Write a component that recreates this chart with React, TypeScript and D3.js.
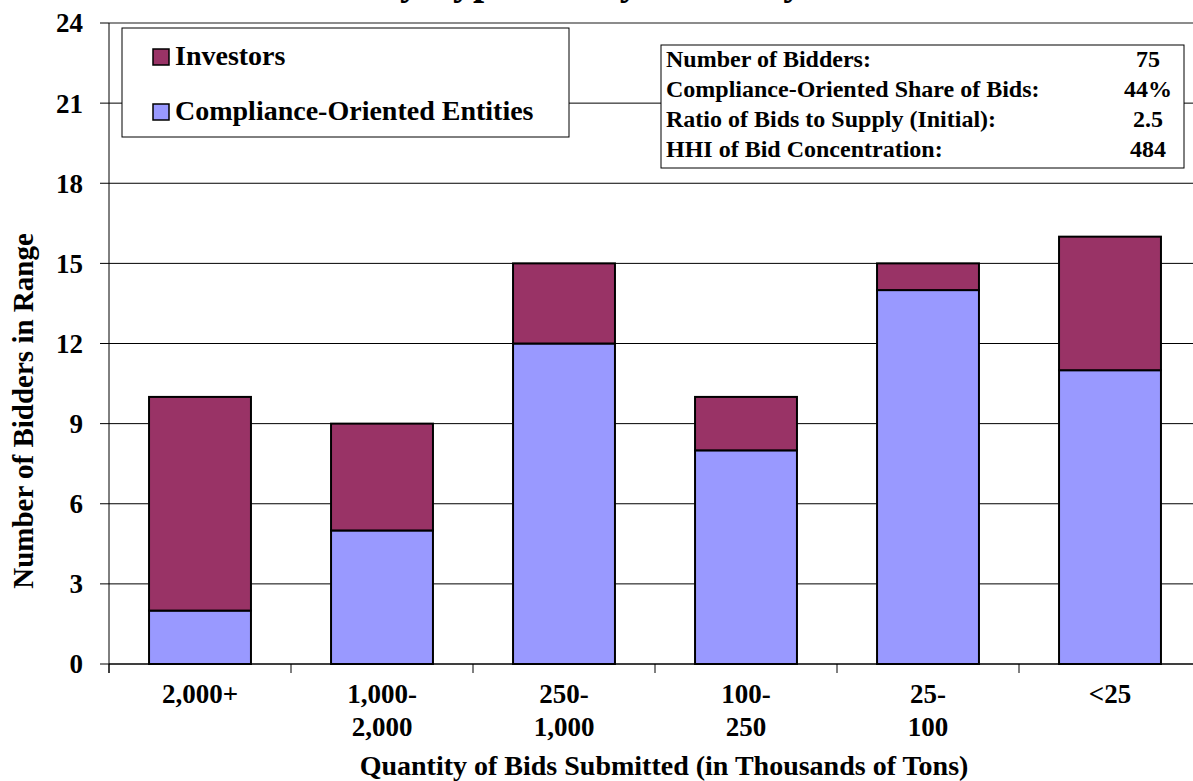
import React from "react";
import * as d3 from "d3";

const categories: string[][] = [
  ["2,000+"],
  ["1,000-", "2,000"],
  ["250-", "1,000"],
  ["100-", "250"],
  ["25-", "100"],
  ["<25"],
];
const compliance = [2, 5, 12, 8, 14, 11];
const investors = [8, 4, 3, 2, 1, 5];
const yTicks = [0, 3, 6, 9, 12, 15, 18, 21, 24];
const seriesNames = ["Investors", "Compliance-Oriented Entities"];
const statLabels = [
  "Number of Bidders:",
  "Compliance-Oriented Share of Bids:",
  "Ratio of Bids to Supply (Initial):",
  "HHI of Bid Concentration:",
];
const statValues = ["75", "44%", "2.5", "484"];
const titleText = "by Type and by Quantity of Bids";
const xTitle = "Quantity of Bids Submitted (in Thousands of Tons)";
const yTitle = "Number of Bidders in Range";

const W = 1193;
const H = 781;
const M = { left: 109, right: 1201, top: 23, bottom: 664 };
const INV = "#993366";
const COMP = "#9999FF";
const FONT = "'Liberation Serif', 'Times New Roman', Times, serif";

export default function App() {
  const idx = categories.map((_, i) => String(i));
  const x = d3
    .scaleBand<string>()
    .domain(idx)
    .range([M.left, M.right])
    .paddingInner(0.44)
    .paddingOuter(0.22);
  const step = (M.right - M.left) / categories.length;
  const y = d3.scaleLinear().domain([0, 24]).range([M.bottom, M.top]);

  const rows = categories.map((c, i) => ({ comp: compliance[i], inv: investors[i] }));
  const stack = d3.stack<{ comp: number; inv: number }>().keys(["comp", "inv"])(rows as any);

  return (
    <svg
      width={W}
      height={H}
      style={{ position: "absolute", left: 0, top: 0, background: "#fff" }}
      fontFamily={FONT}
      fontWeight="bold"
    >
      <rect x={0} y={0} width={W} height={H} fill="#fff" />
      {/* title (cut off at top, as in the reference) */}
      <text x={655} y={-6} textAnchor="middle" fontSize={40} fill="#000">
        {titleText}
      </text>

      {/* gridlines */}
      {yTicks.map((t) => (
        <line
          key={"g" + t}
          x1={M.left}
          x2={W}
          y1={y(t)}
          y2={y(t)}
          stroke={t === 24 ? "#8c8c8c" : "#000"}
          strokeWidth={t === 24 ? 2 : 1}
        />
      ))}

      {/* bars */}
      {stack.map((layer, li) =>
        layer.map((d, i) => (
          <rect
            key={li + "-" + i}
            x={x(String(i))}
            y={y(d[1])}
            width={x.bandwidth()}
            height={y(d[0]) - y(d[1])}
            fill={li === 0 ? COMP : INV}
            stroke="#000"
            strokeWidth={2}
          />
        ))
      )}

      {/* axes */}
      <line x1={M.left} x2={M.left} y1={M.top} y2={M.bottom + 9} stroke="#000" strokeWidth={1} />
      <line x1={M.left} x2={W} y1={M.bottom} y2={M.bottom} stroke="#000" strokeWidth={1} />
      {yTicks.map((t) => (
        <g key={"yt" + t}>
          <line x1={M.left - 9} x2={M.left} y1={y(t)} y2={y(t)} stroke="#000" />
          <text x={83} y={y(t)} dy="0.35em" textAnchor="end" fontSize={27} fill="#000">
            {t}
          </text>
        </g>
      ))}
      {d3.range(categories.length + 1).map((k) => (
        <line
          key={"xt" + k}
          x1={M.left + k * step}
          x2={M.left + k * step}
          y1={M.bottom}
          y2={M.bottom + 9}
          stroke="#000"
        />
      ))}
      {categories.map((lines, i) => (
        <text
          key={"xl" + i}
          x={(x(String(i)) as number) + x.bandwidth() / 2}
          y={703}
          textAnchor="middle"
          fontSize={27}
          fill="#000"
        >
          {lines.map((l, j) => (
            <tspan key={j} x={(x(String(i)) as number) + x.bandwidth() / 2} y={703 + j * 33}>
              {l}
            </tspan>
          ))}
        </text>
      ))}

      {/* axis titles */}
      <text x={(M.left + M.right) / 2 + 9} y={775} textAnchor="middle" fontSize={28} fill="#000">
        {xTitle}
      </text>
      <text
        transform="translate(33,411) rotate(-90)"
        textAnchor="middle"
        fontSize={29}
        fill="#000"
      >
        {yTitle}
      </text>

      {/* legend */}
      <rect x={122} y={28} width={447} height={109} fill="#fff" stroke="#000" strokeWidth={1} />
      {seriesNames.map((n, i) => (
        <g key={n}>
          <rect
            x={153}
            y={49 + i * 55}
            width={16}
            height={16}
            fill={i === 0 ? INV : COMP}
            stroke="#000"
            strokeWidth={1.5}
          />
          <text x={175} y={65 + i * 55} fontSize={28} fill="#000">
            {n}
          </text>
        </g>
      ))}

      {/* stats box */}
      <rect x={661} y={45} width={523} height={123} fill="#fff" stroke="#000" strokeWidth={1} />
      {statLabels.map((s, i) => (
        <g key={s}>
          <text x={666} y={67 + i * 30} fontSize={24} fill="#000">
            {s}
          </text>
          <text x={1148} y={67 + i * 30} textAnchor="middle" fontSize={24} fill="#000">
            {statValues[i]}
          </text>
        </g>
      ))}
    </svg>
  );
}
